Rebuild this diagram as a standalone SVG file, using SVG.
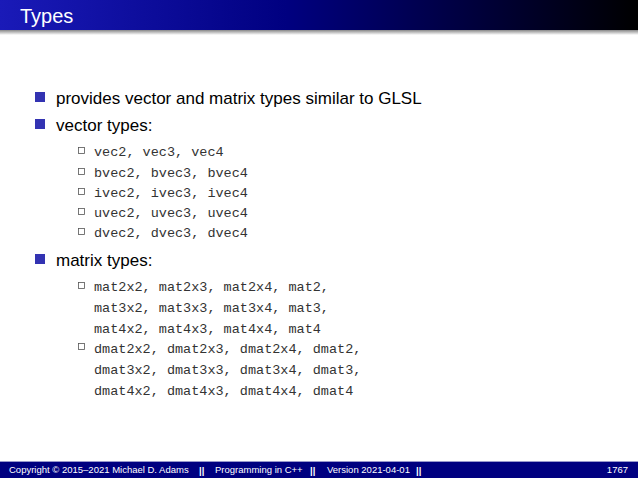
<svg xmlns="http://www.w3.org/2000/svg" width="638" height="478" viewBox="0 0 638 478">
<defs>
<linearGradient id="hg" x1="0" y1="0" x2="1" y2="0"><stop offset="0" stop-color="#1a1ab8"/><stop offset="0.45" stop-color="#000080"/><stop offset="1" stop-color="#000000"/></linearGradient>
<linearGradient id="sh" x1="0" y1="0" x2="0" y2="1"><stop offset="0" stop-color="#888"/><stop offset="1" stop-color="#fff"/></linearGradient>
<style>
.m{font-family:"Liberation Sans",Arial,sans-serif;font-size:17px;fill:#000}
.c{font-family:"Liberation Mono","DejaVu Sans Mono",monospace;font-size:13.5px;fill:#333}
.f{font-family:"Liberation Sans",Arial,sans-serif;font-size:9.5px;fill:#fff}
.b{fill:#3333b2}
.s{fill:none;stroke:#555;stroke-width:0.8}
</style>
</defs>
<rect width="638" height="478" fill="#fff"/>
<rect x="0" y="0" width="638" height="30" fill="url(#hg)"/>
<rect x="0" y="30" width="638" height="5" fill="url(#sh)"/>
<text x="20" y="23" font-family="Liberation Sans,Arial,sans-serif" font-size="20" fill="#fff">Types</text>
<g id="body">
<rect class="b" x="35" y="92" width="10" height="10"/>
<text class="m" x="56" y="104">provides vector and matrix types similar to GLSL</text>
<rect class="b" x="35" y="119" width="10" height="10"/>
<text class="m" x="56" y="131">vector types:</text>
<rect class="s" x="78.5" y="147.5" width="6" height="6"/><text class="c" x="94" y="156">vec2, vec3, vec4</text>
<rect class="s" x="78.5" y="168.5" width="6" height="6"/><text class="c" x="94" y="177">bvec2, bvec3, bvec4</text>
<rect class="s" x="78.5" y="188.5" width="6" height="6"/><text class="c" x="94" y="197">ivec2, ivec3, ivec4</text>
<rect class="s" x="78.5" y="208.5" width="6" height="6"/><text class="c" x="94" y="217">uvec2, uvec3, uvec4</text>
<rect class="s" x="78.5" y="228.5" width="6" height="6"/><text class="c" x="94" y="237">dvec2, dvec3, dvec4</text>
<rect class="b" x="35" y="254" width="10" height="10"/>
<text class="m" x="56" y="266">matrix types:</text>
<rect class="s" x="78.5" y="282.5" width="6" height="6"/>
<text class="c" x="94" y="291">mat2x2, mat2x3, mat2x4, mat2,</text>
<text class="c" x="94" y="312">mat3x2, mat3x3, mat3x4, mat3,</text>
<text class="c" x="94" y="333">mat4x2, mat4x3, mat4x4, mat4</text>
<rect class="s" x="78.5" y="343.5" width="6" height="6"/>
<text class="c" x="94" y="353">dmat2x2, dmat2x3, dmat2x4, dmat2,</text>
<text class="c" x="94" y="374">dmat3x2, dmat3x3, dmat3x4, dmat3,</text>
<text class="c" x="94" y="395">dmat4x2, dmat4x3, dmat4x4, dmat4</text>
</g>
<rect x="0" y="461" width="638" height="1" fill="#9999cc"/>
<rect x="0" y="462" width="638" height="16" fill="#000080"/>
<g id="footer">
<text class="f" x="9" y="473">Copyright © 2015–2021 Michael D. Adams</text>
<text class="f" x="199" y="474" font-weight="bold" font-size="11">||</text>
<text class="f" x="215" y="473">Programming in C++</text>
<text class="f" x="310" y="474" font-weight="bold" font-size="11">||</text>
<text class="f" x="327" y="473">Version 2021-04-01</text>
<text class="f" x="416" y="474" font-weight="bold" font-size="11">||</text>
<text class="f" x="628" y="473" text-anchor="end">1767</text>
</g>
</svg>
